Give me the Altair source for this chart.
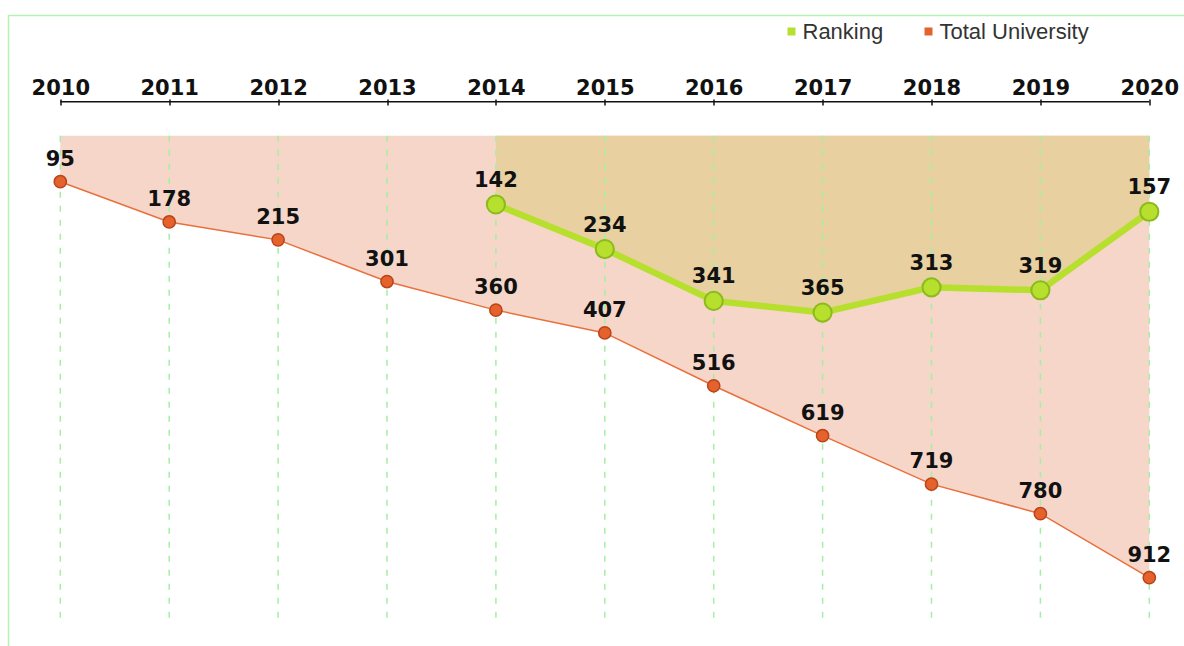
import altair as alt
import pandas as pd

years = [2010, 2011, 2012, 2013, 2014, 2015, 2016, 2017, 2018, 2019, 2020]
total_university = [95, 178, 215, 301, 360, 407, 516, 619, 719, 780, 912]
rank_years = [2014, 2015, 2016, 2017, 2018, 2019, 2020]
ranking = [142, 234, 341, 365, 313, 319, 157]

total_df = pd.DataFrame({"year": years, "value": total_university, "series": "Total University"})
rank_df = pd.DataFrame({"year": rank_years, "value": ranking, "series": "Ranking"})
grid_df = pd.DataFrame({"year": years})

PAD_L, PAD_T, OVER = 8.5, 15.5, 3
W, H = 1184 - PAD_L + OVER, 646 - PAD_T + OVER
PX_PER_YEAR = 108.9
X0 = 2010 - 51.8 / PX_PER_YEAR
K = 0.4847
Y0 = -120.15 / K
x_scale = alt.Scale(domain=[X0, X0 + W / PX_PER_YEAR], nice=False, zero=False)
y_scale = alt.Scale(domain=[Y0, Y0 + H / K], reverse=True, nice=False, zero=False)

x_axis = alt.Axis(
    orient="top", values=years, format="d", title=None, domain=False, grid=False,
    offset=-89.5, tickSize=6, tickWidth=1.5, tickColor="#111111",
    labelFont="DejaVu Sans", labelFontWeight="bold", labelFontSize=21,
    labelColor="#111111", labelBaseline="alphabetic", labelPadding=5,
    labelFlush=False, labelOverlap=False,
)

X = alt.X("year:Q", scale=x_scale, axis=x_axis)
Y = alt.Y("value:Q", scale=y_scale, axis=None)

fill_scale = alt.Scale(domain=["Ranking", "Total University"], range=["#b7df2e", "#e5622c"])
legend = alt.Legend(
    title=None, orient="none", direction="horizontal", legendX=772, legendY=5,
    symbolType="square", symbolSize=64, symbolStrokeWidth=0, symbolOpacity=1,
    labelFont="Liberation Sans", labelFontSize=22, labelColor="#333333",
    labelOffset=0, columnPadding=34, padding=0,
)

area_total = alt.Chart(total_df).transform_calculate(base="0").mark_area(
    color="#f6d6c9", opacity=1
).encode(x=X, y=Y, y2="base:Q")
area_rank = alt.Chart(rank_df).transform_calculate(base="0").mark_area(
    color="#e8d0a0", opacity=1
).encode(x=X, y=Y, y2="base:Q")
grid = alt.Chart(grid_df).transform_calculate(top="0", bottom="1000").mark_rule(
    color="#a3f0a3", strokeWidth=1.5, strokeDash=[6, 8]
).encode(x=X, y=alt.Y("top:Q", scale=y_scale, axis=None), y2="bottom:Q")
axis_line = alt.Chart(grid_df).transform_aggregate(
    x0="min(year)", x1="max(year)"
).transform_calculate(ly="-70").mark_rule(color="#111111", strokeWidth=1.5).encode(
    x=alt.X("x0:Q", scale=x_scale, axis=x_axis), x2="x1:Q",
    y=alt.Y("ly:Q", scale=y_scale, axis=None)
)
line_total = alt.Chart(total_df).mark_line(color="#e8703c", strokeWidth=1.5).encode(x=X, y=Y)
line_rank = alt.Chart(rank_df).mark_line(color="#b7df2e", strokeWidth=6.5).encode(x=X, y=Y)

pts_total = alt.Chart(total_df).mark_point(
    filled=True, shape="circle", size=150, stroke="#b8441a", strokeWidth=1.5, opacity=1
).encode(x=X, y=Y, fill=alt.Fill("series:N", scale=fill_scale, legend=legend))
pts_rank = alt.Chart(rank_df).mark_point(
    filled=True, shape="circle", size=330, stroke="#8cba1c", strokeWidth=2, opacity=1
).encode(x=X, y=Y, fill=alt.Fill("series:N", scale=fill_scale, legend=legend))

txt_total = alt.Chart(total_df).mark_text(
    font="DejaVu Sans", fontWeight="bold", fontSize=21, color="#111111",
    baseline="alphabetic", dy=-16
).encode(x=X, y=Y, text="value:Q")
txt_rank = alt.Chart(rank_df).mark_text(
    font="DejaVu Sans", fontWeight="bold", fontSize=21, color="#111111",
    baseline="alphabetic", dy=-17.5
).encode(x=X, y=Y, text="value:Q")

chart = alt.layer(
    area_total, area_rank, grid, axis_line, line_total, line_rank,
    pts_total, pts_rank, txt_total, txt_rank
).properties(
    width=W, height=H,
    autosize=alt.AutoSizeParams(type="none"),
    padding={"left": PAD_L, "top": PAD_T, "right": -OVER, "bottom": -OVER},
    background="white",
).configure_view(stroke="#b2f5b2", strokeWidth=1.5)

chart.save("out.html", embed_options={"renderer": "svg", "actions": False})
